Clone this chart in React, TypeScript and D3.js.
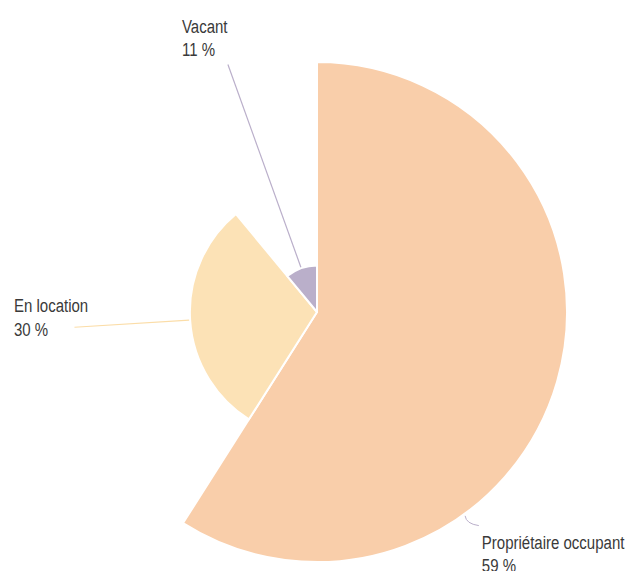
import React, { useEffect, useRef } from 'react';
import * as d3 from 'd3';

const categories = ['Propriétaire occupant', 'En location', 'Vacant'];
const values = [59, 30, 11];
const colors = ['#F9CEAA', '#FCE2B6', '#BAAFCA'];
const lineColors = ['#BAAFCA', '#FBDDA8', '#BAAFCA'];

export default function App() {
  const ref = useRef<SVGSVGElement>(null);

  useEffect(() => {
    const width = 627;
    const height = 571;
    const cx = 317;
    const cy = 312;

    const svg = d3.select(ref.current);
    svg.selectAll('*').remove();

    const data = categories.map((c, i) => ({ name: c, value: values[i], i }));

    const pie = d3
      .pie<any>()
      .sort(null)
      .value((d: any) => d.value);

    // radius grows with the share
    const r = d3.scaleLinear().domain([0, 59]).range([0, 250]);

    const arc = d3
      .arc<any>()
      .innerRadius(0)
      .outerRadius((d: any) => r(d.data.value));

    const g = svg.append('g').attr('transform', `translate(${cx},${cy})`);

    const arcs = pie(data);

    g.selectAll('path.slice')
      .data(arcs)
      .enter()
      .append('path')
      .attr('class', 'slice')
      .attr('d', arc as any)
      .attr('fill', (d: any) => colors[d.data.i])
      .attr('stroke', '#fff')
      .attr('stroke-width', 2)
      .attr('stroke-linejoin', 'round');

    const polar = (a: number, rad: number) => [Math.sin(a) * rad, -Math.cos(a) * rad];

    // leader lines + labels
    arcs.forEach((d: any) => {
      const i = d.data.i;
      const mid = (d.startAngle + d.endAngle) / 2;
      let p0: number[];
      let p1: number[];
      let tx: number;
      let ty: number;
      if (i === 0) {
        // short curved tick near the bottom-right edge
        const a = (144 * Math.PI) / 180;
        p0 = polar(a, 252);
        p1 = polar(a - 0.02, 268);
        const pc = polar(a + 0.015, 259);
        g.append('path')
          .attr('d', `M${p0[0]},${p0[1]}Q${pc[0]},${pc[1]} ${p1[0]},${p1[1]}`)
          .attr('fill', 'none')
          .attr('stroke', lineColors[i])
          .attr('stroke-width', 1);
        tx = p1[0] + 3;
        ty = p1[1] + 23;
      } else {
        const rr = r(d.data.value);
        const outer = i === 1 ? 243 : 263;
        p0 = polar(mid, rr + 1);
        p1 = polar(mid, outer);
        g.append('line')
          .attr('x1', p0[0])
          .attr('y1', p0[1])
          .attr('x2', p1[0])
          .attr('y2', p1[1])
          .attr('stroke', lineColors[i])
          .attr('stroke-width', 1.2);
        if (i === 1) {
          tx = p1[0] - 60.5;
          ty = p1[1] - 15;
        } else {
          tx = p1[0] - 46;
          ty = p1[1] - 32;
        }
      }
      const t = g
        .append('text')
        .attr('transform', `translate(${tx},${ty}) scale(0.79,1)`)
        .attr('fill', '#3a3a3a')
        .style('font-family', '"Liberation Sans", Arial, sans-serif')
        .style('font-size', '19px');
      t.append('tspan').attr('x', 0).text(d.data.name);
      t.append('tspan').attr('x', 0).attr('dy', 23.3).text(`${d.data.value} %`);
    });

    svg.attr('width', width).attr('height', height);
  }, []);

  return (
    <svg
      ref={ref}
      style={{ position: 'absolute', left: 0, top: 0, display: 'block' }}
    />
  );
}
